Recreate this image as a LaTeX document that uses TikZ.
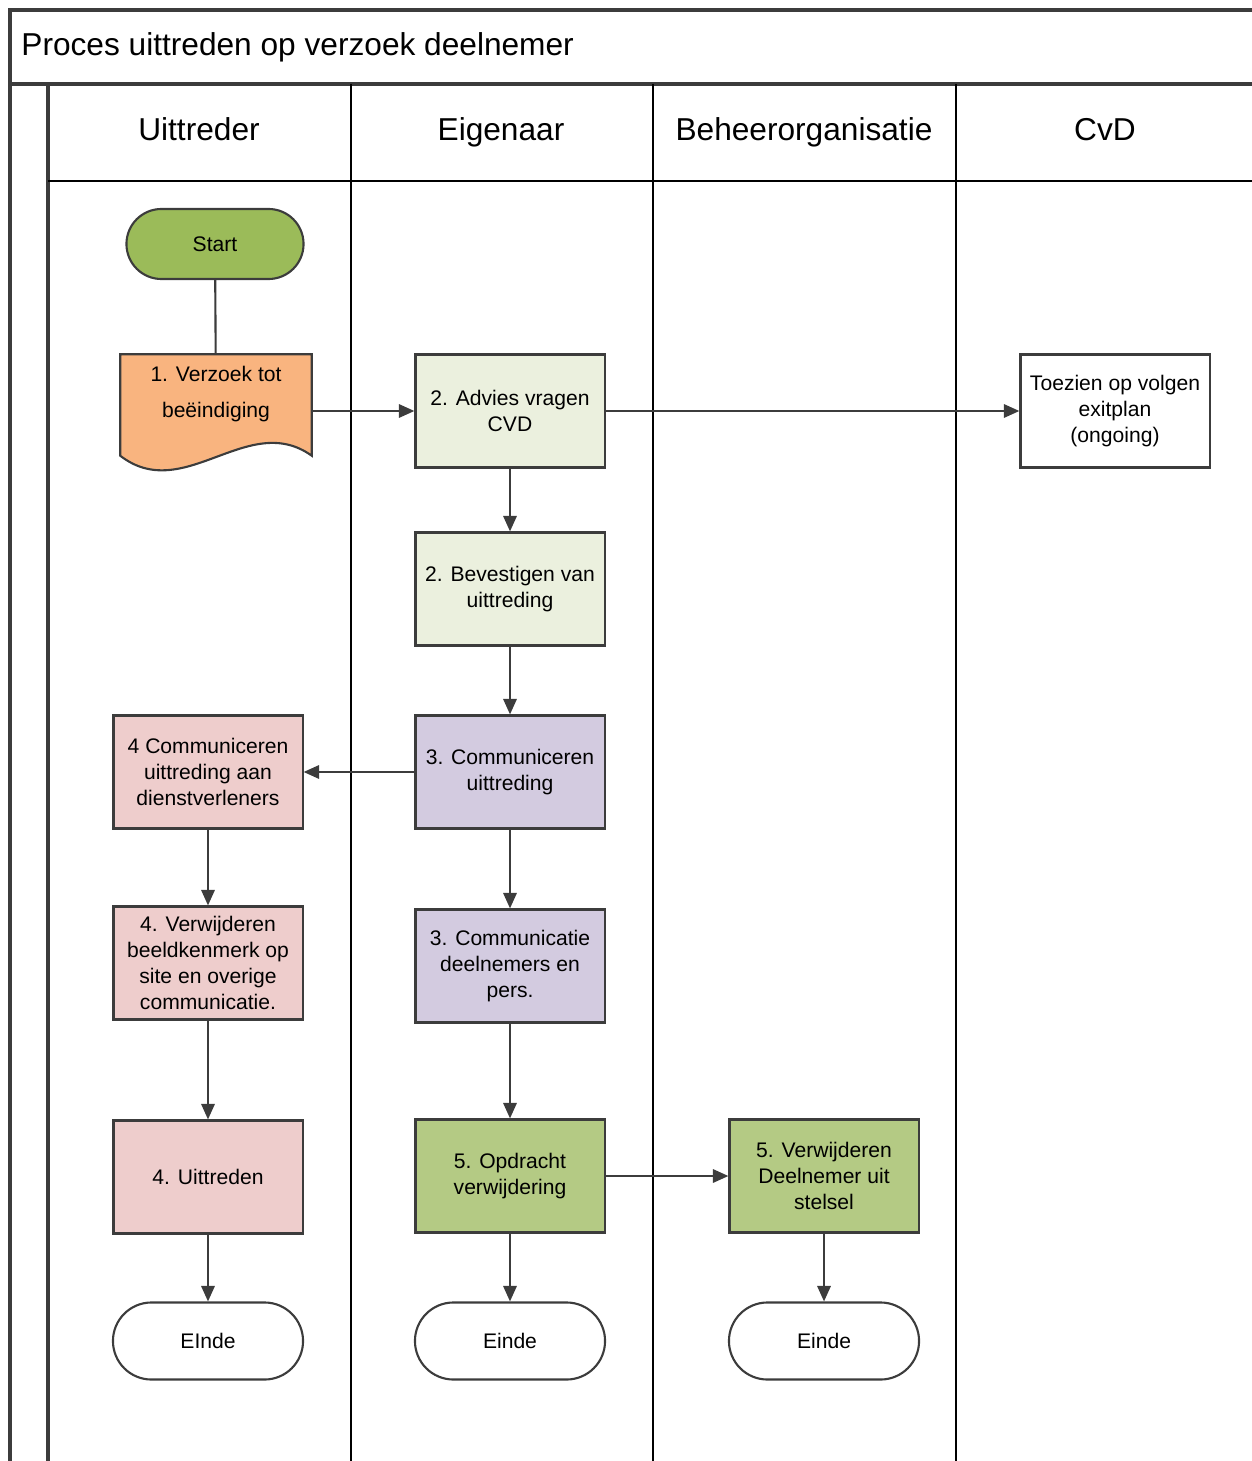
\documentclass[tikz,border=0pt]{standalone}
\usepackage{fontspec}
\setmainfont{Liberation Sans}
\usetikzlibrary{arrows.meta}

\definecolor{startgreen}{HTML}{9BBB59}
\definecolor{docorange}{HTML}{F9B47F}
\definecolor{lightgreen}{HTML}{EBF0DE}
\definecolor{lavender}{HTML}{D3CBE0}
\definecolor{pink}{HTML}{EECDCC}
\definecolor{midgreen}{HTML}{B4CA84}
\definecolor{linegray}{HTML}{3C3C3C}

\begin{document}
\begin{tikzpicture}[x=0.01cm, y=-0.01cm,
    lane/.style={draw=black, line width=0.35pt},
    frame/.style={draw=linegray, line width=0.9pt},
    head/.style={font=\fontsize{9}{11}\selectfont, anchor=base},
    box/.style={draw=linegray, line width=0.6pt, minimum width=1.89cm, minimum height=1.13cm,
        align=center, inner sep=1pt, font=\fontsize{6}{7.4}\selectfont},
    term/.style={draw=linegray, line width=0.6pt, rounded corners=0.385cm, minimum width=1.9cm,
        minimum height=0.77cm, font=\fontsize{6}{7.4}\selectfont},
    flow/.style={draw=linegray, line width=0.6pt, -{Triangle[length=4.4pt, width=3.8pt]}}]
    \useasboundingbox (0,0) rectangle (1252,1461);

    % Swimlane frame
    \draw[frame] (1252,10) -- (10,10) -- (10,1461);
    \draw[frame] (10,84) -- (1252,84);
    \draw[frame] (48,84) -- (48,1461);
    \draw[lane] (48,181) -- (1252,181);
    \foreach \x in {351, 653, 956}
        \draw[lane] (\x,84) -- (\x,1461);

    % Title and lane headers
    \node[head, anchor=base west] (title) at (9,56) {Proces uittreden op verzoek deelnemer};
    \node[head] (h1) at (199,141) {Uittreder};
    \node[head] (h2) at (501,141) {Eigenaar};
    \node[head] (h3) at (804,141) {Beheerorganisatie};
    \node[head] (h4) at (1105,141) {CvD};

    % Draw nodes
    \node[term, fill=startgreen, minimum width=1.77cm, minimum height=0.7cm, rounded corners=0.35cm] (start) at (215,244) {Start};
    \node[minimum width=1.9cm, minimum height=1cm, inner sep=0pt] (req) at (216,405) {};
    \draw[fill=docorange, draw=linegray, line width=0.6pt] (req.north west) -- (req.north east) -- (req.south east)
        .. controls (248,410) and (184,505) .. (req.south west) -- cycle; % document shape
    \node[align=center, font=\fontsize{6}{10}\selectfont] (reqtext) at (216,394) {1. Verzoek tot\\beëindiging};
    \node[box, fill=lightgreen] (advies) at (510,411) {2. Advies vragen\\CVD};
    \node[box, fill=white] (toezien) at (1115,411) {Toezien op volgen\\exitplan\\(ongoing)};
    \node[box, fill=lightgreen] (bevestig) at (510,589) {2. Bevestigen van\\uittreding};
    \node[box, fill=lavender] (comm3) at (510,772) {3. Communiceren\\uittreding};
    \node[box, fill=pink] (comm4) at (208,772) {4 Communiceren\\uittreding aan\\dienstverleners};
    \node[box, fill=pink] (verw4) at (208,963) {4. Verwijderen\\beeldkenmerk op\\site en overige\\communicatie.};
    \node[box, fill=lavender] (pers) at (510,966) {3. Communicatie\\deelnemers en\\pers.};
    \node[box, fill=pink] (uittr) at (208,1177) {4. Uittreden};
    \node[box, fill=midgreen] (opdr) at (510,1176) {5. Opdracht\\verwijdering};
    \node[box, fill=midgreen] (verw5) at (824,1176) {5. Verwijderen\\Deelnemer uit\\stelsel};
    \node[term, fill=white] (end1) at (208,1341) {EInde};
    \node[term, fill=white] (end2) at (510,1341) {Einde};
    \node[term, fill=white] (end3) at (824,1341) {Einde};

    % Draw connectors
    \draw[draw=linegray, line width=0.6pt] (start) -- (req);
    \draw[flow] (req.east |- advies.west) -- (advies.west);
    \draw[flow] (advies) -- (toezien);
    \draw[flow] (advies) -- (bevestig);
    \draw[flow] (bevestig) -- (comm3);
    \draw[flow] (comm3) -- (comm4);
    \draw[flow] (comm3) -- (pers);
    \draw[flow] (comm4) -- (verw4);
    \draw[flow] (verw4) -- (uittr);
    \draw[flow] (uittr) -- (end1);
    \draw[flow] (pers) -- (opdr);
    \draw[flow] (opdr) -- (end2);
    \draw[flow] (opdr) -- (verw5);
    \draw[flow] (verw5) -- (end3);
\end{tikzpicture}
\end{document}
